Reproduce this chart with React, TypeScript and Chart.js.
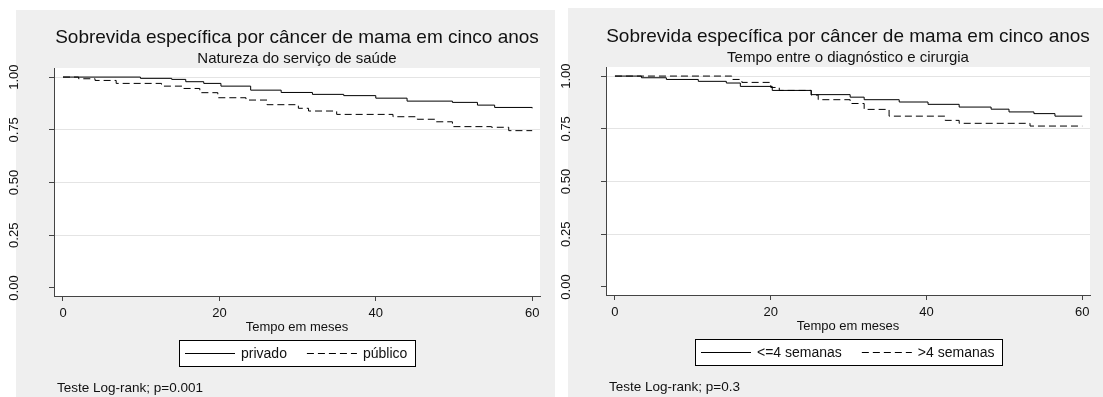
import React, { useEffect, useRef } from "react";
import { Chart, registerables } from "chart.js";

Chart.register(...registerables);

const FONT = "'Liberation Sans', Arial, Helvetica, sans-serif";
const TEXT = "#111";

const TITLE = "Sobrevida específica por câncer de mama em cinco anos";
const X_TITLE = "Tempo em meses";
const X_TICKS = [0, 20, 40, 60];
const Y_TICKS = [0, 0.25, 0.5, 0.75, 1];

// Panel 1: Natureza do serviço de saúde
const SUB_LEFT = "Natureza do serviço de saúde";
const NOTE_LEFT = "Teste Log-rank; p=0.001";
const LABELS_LEFT = ["privado", "público"];
const privadoTimes = [0, 9.9, 13.9, 15.7, 18.0, 20.2, 24.0, 27.9, 31.9, 35.9, 40.0, 44.0, 49.8, 53.0, 55.2, 60];
const privadoSurv = [1.0, 0.994, 0.989, 0.978, 0.97, 0.957, 0.938, 0.927, 0.918, 0.912, 0.9, 0.886, 0.88, 0.867, 0.856, 0.852];
const publicoTimes = [0, 2.0, 4.1, 6.8, 12.6, 15.3, 17.5, 19.8, 23.4, 26.1, 30.1, 31.4, 35.0, 42.2, 45.3, 47.6, 49.8, 54.8, 57.0, 60];
const publicoSurv = [1.0, 0.992, 0.984, 0.97, 0.957, 0.946, 0.926, 0.902, 0.891, 0.869, 0.852, 0.839, 0.823, 0.812, 0.8, 0.788, 0.765, 0.762, 0.746, 0.746];

// Panel 2: Tempo entre o diagnóstico e cirurgia
const SUB_RIGHT = "Tempo entre o diagnóstico e cirurgia";
const NOTE_RIGHT = "Teste Log-rank; p=0.3";
const LABELS_RIGHT = ["<=4 semanas", ">4 semanas"];
const le4Times = [0, 3.4, 6.6, 10.7, 14.3, 16.1, 20.2, 25.2, 30.2, 32.0, 36.5, 40.2, 44.2, 48.3, 50.6, 53.8, 56.5, 60];
const le4Surv = [1.0, 0.992, 0.984, 0.975, 0.967, 0.951, 0.932, 0.912, 0.9, 0.888, 0.877, 0.866, 0.853, 0.843, 0.83, 0.822, 0.81, 0.81];
const gt4Times = [0, 15.0, 16.3, 20.0, 21.1, 25.2, 26.1, 30.2, 32.0, 35.2, 42.4, 44.2, 53.3, 60];
const gt4Surv = [1.0, 0.984, 0.97, 0.946, 0.932, 0.91, 0.888, 0.87, 0.842, 0.81, 0.79, 0.776, 0.763, 0.763];

const DASH = [7, 4];

const toPoints = (t: number[], s: number[]) => t.map((x, i) => ({ x, y: s[i] }));

const decorPlugin = {
  id: "panelDecor",
  beforeDraw(chart: any, _a: any, opts: any) {
    const { ctx, chartArea: a } = chart;
    ctx.save();
    ctx.fillStyle = "#efefef";
    const [px, py, pw, ph] = opts.panel;
    ctx.fillRect(px, py, pw, ph);
    ctx.fillStyle = "#ffffff";
    ctx.fillRect(a.left, a.top, a.right - a.left, a.bottom - a.top);
    ctx.restore();
  },
  afterDraw(chart: any, _a: any, opts: any) {
    const { ctx, chartArea: a } = chart;
    const cx = (a.left + a.right) / 2;
    ctx.save();
    ctx.fillStyle = TEXT;
    ctx.textAlign = "center";
    ctx.textBaseline = "alphabetic";
    ctx.font = `19px ${FONT}`;
    ctx.fillText(TITLE, cx, a.top - 25);
    ctx.font = `15px ${FONT}`;
    ctx.fillText(opts.subtitle, cx, a.top - 5);

    // legend
    ctx.font = `14px ${FONT}`;
    const items = chart.data.datasets.map((ds: any) => ({
      label: ds.label,
      dash: ds.borderDash || [],
      w: ctx.measureText(ds.label).width,
    }));
    const padL = 6, padR = 8, sample = 50, gap = 6, sep = 20;
    const total = Math.round(
      padL + padR + items.reduce((s: number, it: any) => s + sample + gap + it.w, 0) + sep * (items.length - 1)
    );
    const bx = Math.round(cx - total / 2);
    const by = a.bottom + 44;
    const bh = 26;
    ctx.fillStyle = "#ffffff";
    ctx.fillRect(bx, by, total, bh);
    ctx.strokeStyle = "#000";
    ctx.lineWidth = 1;
    ctx.strokeRect(bx + 0.5, by + 0.5, total, bh);
    let x = bx + padL;
    const ly = Math.round(by + bh / 2) + 0.5;
    items.forEach((it: any) => {
      ctx.setLineDash(it.dash);
      ctx.beginPath();
      ctx.moveTo(x, ly);
      ctx.lineTo(x + sample, ly);
      ctx.stroke();
      ctx.setLineDash([]);
      x += sample + gap;
      ctx.fillStyle = TEXT;
      ctx.textAlign = "left";
      ctx.textBaseline = "middle";
      ctx.fillText(it.label, x, by + bh / 2 + 1);
      x += it.w + sep;
    });

    // note
    ctx.font = `13.5px ${FONT}`;
    ctx.textAlign = "left";
    ctx.textBaseline = "alphabetic";
    ctx.fillStyle = TEXT;
    ctx.fillText(opts.note, a.left + 3, a.bottom + 96);
    ctx.restore();
  },
};

function makeConfig(p: any) {
  return {
    type: "line",
    data: {
      datasets: [
        {
          label: p.labels[0],
          data: toPoints(p.t1, p.s1),
          borderColor: "#000",
          borderWidth: 1,
          pointRadius: 0,
          fill: false,
          stepped: "before",
        },
        {
          label: p.labels[1],
          data: toPoints(p.t2, p.s2),
          borderColor: "#000",
          borderWidth: 1,
          borderDash: DASH,
          pointRadius: 0,
          fill: false,
          stepped: "before",
        },
      ],
    },
    options: {
      responsive: false,
      animation: false,
      events: [],
      layout: { padding: p.padding },
      scales: {
        x: {
          type: "linear",
          min: -1.15,
          max: 61,
          afterBuildTicks: (s: any) => {
            s.ticks = X_TICKS.map((v) => ({ value: v }));
          },
          afterFit: (s: any) => {
            s.height = 40;
          },
          ticks: {
            font: { family: FONT, size: 13 },
            color: TEXT,
            padding: 5,
            maxRotation: 0,
            autoSkip: false,
          },
          grid: { drawOnChartArea: false, tickLength: 5, tickColor: "#444", color: "#444" },
          border: { color: "#444", width: 1 },
          title: {
            display: true,
            text: X_TITLE,
            font: { family: FONT, size: 13 },
            color: TEXT,
            padding: { top: 0, bottom: 1 },
          },
        },
        y: {
          type: "linear",
          min: -0.038,
          max: 1.043,
          afterBuildTicks: (s: any) => {
            s.ticks = Y_TICKS.map((v) => ({ value: v }));
          },
          afterFit: (s: any) => {
            s.width = p.yWidth;
          },
          ticks: {
            font: { family: FONT, size: 13 },
            color: TEXT,
            minRotation: 90,
            maxRotation: 90,
            crossAlign: "center",
            padding: 22,
            autoSkip: false,
            callback: (v: any) => Number(v).toFixed(2),
          },
          grid: {
            color: (c: any) => (c.tick && c.tick.value === 0 ? "rgba(0,0,0,0)" : "#e4e4e4"),
            tickLength: 5,
            tickColor: "#444",
          },
          border: { color: "#444", width: 1 },
        },
      },
      plugins: {
        legend: { display: false },
        tooltip: { enabled: false },
        title: { display: false },
        panelDecor: { panel: p.panel, subtitle: p.subtitle, note: p.note },
      },
    },
    plugins: [decorPlugin],
  };
}

function Panel(props: { cfg: any; width: number; height: number; left: number }) {
  const ref = useRef<HTMLCanvasElement | null>(null);
  useEffect(() => {
    if (!ref.current) return;
    const chart = new Chart(ref.current, props.cfg as any);
    return () => chart.destroy();
  }, []);
  return (
    <canvas
      ref={ref}
      width={props.width}
      height={props.height}
      style={{ position: "absolute", left: props.left, top: 0, width: props.width, height: props.height, display: "block" }}
    />
  );
}

export default function App() {
  const leftCfg = makeConfig({
    labels: LABELS_LEFT,
    t1: privadoTimes,
    s1: privadoSurv,
    t2: publicoTimes,
    s2: publicoSurv,
    subtitle: SUB_LEFT,
    note: NOTE_LEFT,
    panel: [16, 10, 539, 387],
    padding: { left: 0, top: 68, right: 19, bottom: 61 },
    yWidth: 54,
  });
  const rightCfg = makeConfig({
    labels: LABELS_RIGHT,
    t1: le4Times,
    s1: le4Surv,
    t2: gt4Times,
    s2: gt4Surv,
    subtitle: SUB_RIGHT,
    note: NOTE_RIGHT,
    panel: [9, 8, 535, 389],
    padding: { left: 0, top: 67, right: 13, bottom: 62 },
    yWidth: 47,
  });
  return (
    <div style={{ position: "absolute", left: 0, top: 0, width: 1103, height: 397, background: "#fff", overflow: "hidden" }}>
      <Panel cfg={leftCfg} width={559} height={397} left={0} />
      <Panel cfg={rightCfg} width={544} height={397} left={559} />
    </div>
  );
}
